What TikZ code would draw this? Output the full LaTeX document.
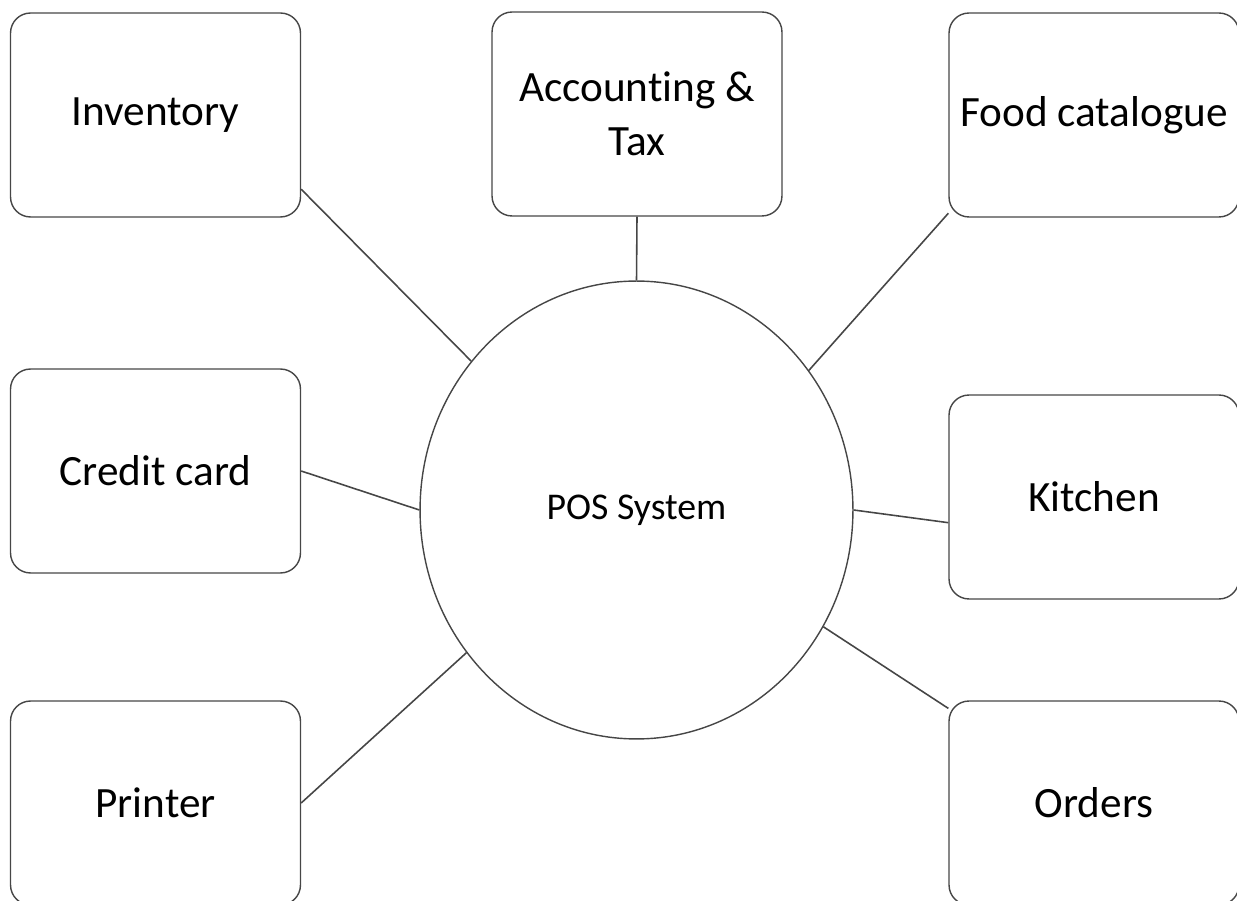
\documentclass[tikz,border=0pt]{standalone}
\usepackage{fontspec}
\setmainfont{Carlito}[Ligatures=NoCommon]
\usetikzlibrary{positioning, shapes.geometric}
\definecolor{edgegray}{RGB}{70, 70, 70}

\begin{document}
\begin{tikzpicture}[x=0.02cm, y=-0.02cm,
                modbox/.style={draw=edgegray, line width=0.8pt, rounded corners=0.4cm,
                    minimum width=5.8cm, minimum height=4.08cm, inner sep=0pt,
                    align=center, font=\fontsize{24.6}{30.6}\selectfont},
                hub/.style={ellipse, draw=edgegray, line width=0.8pt, inner sep=0pt,
                    minimum width=8.66cm, minimum height=9.16cm,
                    font=\fontsize{21.5}{25}\selectfont},
                link/.style={draw=edgegray, line width=0.9pt}
            ]
            \useasboundingbox (0, 0) rectangle (1237, 901);

            % centre
            \node[hub] (pos) at (636.5, 510) {POS System};

            % top row
            \node[modbox] (inv) at (155.5, 115) {Inventory};
            \node[modbox] (acc) at (637, 114) {Accounting \&\\Tax};
            \node[modbox] (food) at (1094, 115) {Food catalogue};

            % middle row
            \node[modbox] (card) at (155.5, 471) {Credit card};
            \node[modbox] (kitchen) at (1094, 497) {Kitchen};

            % bottom row
            \node[modbox] (printer) at (155.5, 803) {Printer};
            \node[modbox] (orders) at (1094, 803) {Orders};

            % links
            \draw[link] (inv.-27.4) -- (pos.138);
            \draw[link] (acc.south) -- (pos.north);
            \draw[link] (food.214) -- (pos.39.6);
            \draw[link] (card.east) -- (pos.west);
            \draw[link] (kitchen.190) -- (pos.east);
            \draw[link] (printer.east) -- (pos.220.7);
            \draw[link] (orders.147) -- (pos.328.6);

            \end{tikzpicture}
\end{document}
